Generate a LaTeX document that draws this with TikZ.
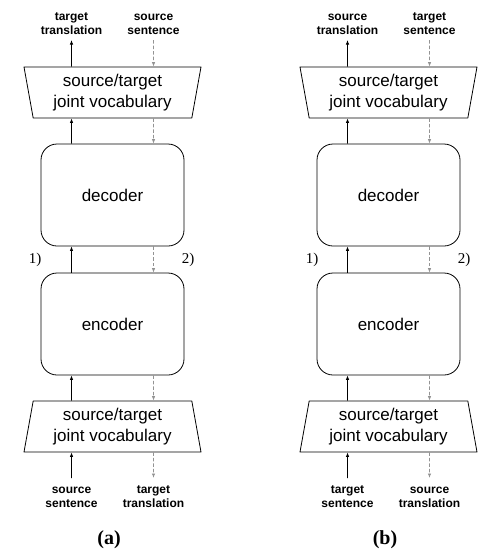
\documentclass[tikz,border=0pt]{standalone}
\usepackage{fontspec}
\setmainfont{Liberation Sans}
\newfontfamily\capfont{Liberation Serif}
\usetikzlibrary{shapes.geometric,arrows.meta}

\newcommand{\firstline}{\rule{0pt}{10pt}}

\tikzset{
  vocab/.style={draw, trapezium, trapezium left angle=76, trapezium right angle=76,
    trapezium stretches body, minimum width=177pt, minimum height=51pt, inner sep=0pt,
    align=center, font=\fontsize{17}{21}\selectfont},
  block/.style={draw, rounded corners=16pt, minimum width=143pt, minimum height=102pt,
    font=\fontsize{17}{21}\selectfont},
  io/.style={align=center, inner xsep=2pt, inner ysep=5pt,
    font=\fontsize{12}{14}\selectfont\bfseries},
  step num/.style={font=\capfont\fontsize{15}{18}\selectfont},
  caption/.style={font=\capfont\fontsize{20}{24}\selectfont\bfseries},
  back/.style={->, gray!85, dashed, dash pattern=on 3.5pt off 2pt},
}

\begin{document}
\begin{tikzpicture}[x=1pt,y=-1pt,line width=0.8pt,>={Latex[length=4.5pt,width=3.5pt]}]
  \useasboundingbox (0,0) rectangle (503,560);

  % Nodes (a)
  \node[vocab, shape border rotate=180] (vtopA) at (112.5,92.5) {source/target\\joint vocabulary};
  \node[block] (decA) at (112.5,195) {decoder};
  \node[block] (encA) at (112.5,324) {encoder};
  \node[vocab] (vbotA) at (112.5,426.5) {source/target\\joint vocabulary};
  \node[io, anchor=south] (outA) at (71.5,40) {target\\translation};
  \node[io, anchor=south] (inA) at (153.5,40) {source\\sentence};
  \node[io, anchor=north] (srcA) at (71.5,478) {\firstline source\\sentence};
  \node[io, anchor=north] (tgtA) at (153.5,478) {\firstline target\\translation};
  \node[step num] (oneA) at (35,260) {1)};
  \node[step num] (twoA) at (188,260) {2)};
  \node[caption] (capA) at (109,540) {(a)};

  % Nodes (b)
  \node[vocab, shape border rotate=180] (vtopB) at (388.5,92.5) {source/target\\joint vocabulary};
  \node[block] (decB) at (388.5,195) {decoder};
  \node[block] (encB) at (388.5,324) {encoder};
  \node[vocab] (vbotB) at (388.5,426.5) {source/target\\joint vocabulary};
  \node[io, anchor=south] (outB) at (347.5,40) {source\\translation};
  \node[io, anchor=south] (inB) at (429.5,40) {target\\sentence};
  \node[io, anchor=north] (srcB) at (347.5,478) {\firstline target\\sentence};
  \node[io, anchor=north] (tgtB) at (429.5,478) {\firstline source\\translation};
  \node[step num] (oneB) at (312,260) {1)};
  \node[step num] (twoB) at (464,260) {2)};
  \node[caption] (capB) at (385,540) {(b)};

  % Arrows (a)
  \draw[->] (srcA.north) -- ([xshift=-41pt]vbotA.south);
  \draw[->] ([xshift=-41pt]vbotA.north) -- ([xshift=-41pt]encA.south);
  \draw[->] ([xshift=-41pt]encA.north) -- ([xshift=-41pt]decA.south);
  \draw[->] ([xshift=-41pt]decA.north) -- ([xshift=-41pt]vtopA.south);
  \draw[->] ([xshift=-41pt]vtopA.north) -- (outA.south);
  \draw[back] (inA.south) -- ([xshift=41pt]vtopA.north);
  \draw[back] ([xshift=41pt]vtopA.south) -- ([xshift=41pt]decA.north);
  \draw[back] ([xshift=41pt]decA.south) -- ([xshift=41pt]encA.north);
  \draw[back] ([xshift=41pt]encA.south) -- ([xshift=41pt]vbotA.north);
  \draw[back] ([xshift=41pt]vbotA.south) -- (tgtA.north);

  % Arrows (b)
  \draw[->] (srcB.north) -- ([xshift=-41pt]vbotB.south);
  \draw[->] ([xshift=-41pt]vbotB.north) -- ([xshift=-41pt]encB.south);
  \draw[->] ([xshift=-41pt]encB.north) -- ([xshift=-41pt]decB.south);
  \draw[->] ([xshift=-41pt]decB.north) -- ([xshift=-41pt]vtopB.south);
  \draw[->] ([xshift=-41pt]vtopB.north) -- (outB.south);
  \draw[back] (inB.south) -- ([xshift=41pt]vtopB.north);
  \draw[back] ([xshift=41pt]vtopB.south) -- ([xshift=41pt]decB.north);
  \draw[back] ([xshift=41pt]decB.south) -- ([xshift=41pt]encB.north);
  \draw[back] ([xshift=41pt]encB.south) -- ([xshift=41pt]vbotB.north);
  \draw[back] ([xshift=41pt]vbotB.south) -- (tgtB.north);
\end{tikzpicture}
\end{document}
